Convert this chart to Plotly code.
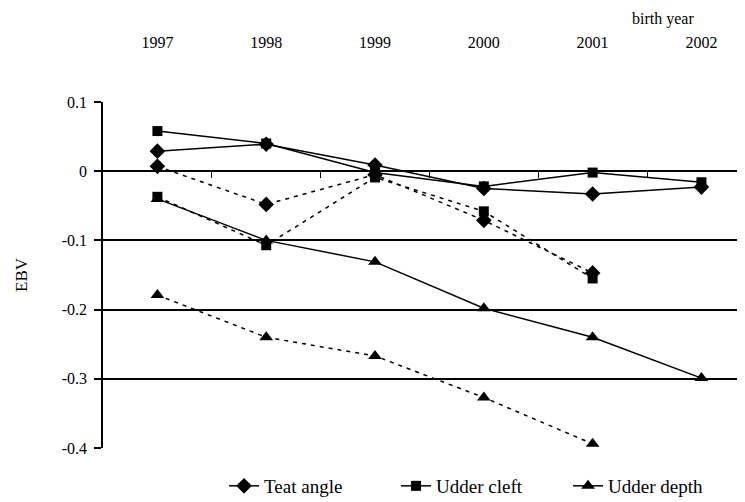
import plotly.graph_objects as go

years = ["1997", "1998", "1999", "2000", "2001", "2002"]
y_ticks = [0.1, 0, -0.1, -0.2, -0.3, -0.4]
y_tick_text = ["0.1", "0", "-0.1", "-0.2", "-0.3", "-0.4"]

teat_solid = [0.029, 0.039, 0.009, -0.025, -0.033, -0.023]
cleft_solid = [0.058, 0.040, -0.002, -0.022, -0.002, -0.016]
depth_solid = [-0.040, -0.100, -0.131, -0.198, -0.240, -0.299]

teat_dash = [0.007, -0.048, -0.005, -0.071, -0.147, None]
cleft_dash = [-0.037, -0.107, -0.009, -0.058, -0.155, None]
depth_dash = [-0.179, -0.240, -0.267, -0.327, -0.394, None]

FONT = "Liberation Serif"
xi = list(range(len(years)))
XR = [-0.5, 5.474]

fig = go.Figure()

def add(vals, name, symbol, size, dash, show):
    fig.add_trace(go.Scatter(
        x=xi, y=vals, name=name, mode="lines+markers",
        line=dict(color="black", width=1.5, dash=dash),
        marker=dict(symbol=symbol, size=size, color="black"),
        showlegend=show, connectgaps=False,
    ))

add(depth_dash, "Udder depth", "triangle-up", 12, "4px,5px", False)
add(teat_dash, "Teat angle", "diamond", 12, "4px,5px", False)
add(cleft_dash, "Udder cleft", "square", 10, "4px,5px", False)
add(depth_solid, "Udder depth", "triangle-up", 12, "solid", False)
add(teat_solid, "Teat angle", "diamond", 12, "solid", True)
add(cleft_solid, "Udder cleft", "square", 10, "solid", True)
fig.add_trace(go.Scatter(
    x=[None], y=[None], name="Udder depth", mode="lines+markers",
    line=dict(color="black", width=1.5),
    marker=dict(symbol="triangle-up", size=12, color="black"), showlegend=True))

# invisible trace for the category-boundary ticks on the zero line
fig.add_trace(go.Scatter(x=[None], y=[None], xaxis="x2", showlegend=False, hoverinfo="skip"))

fig.update_layout(
    width=745, height=502,
    margin=dict(l=95, r=0, t=94, b=62, autoexpand=False),
    paper_bgcolor="white", plot_bgcolor="white",
    font=dict(family=FONT, size=15, color="black"),
    xaxis=dict(
        range=XR, side="top", tickmode="array", tickvals=xi, ticktext=years,
        ticks="", showgrid=False, zeroline=False, showline=False, automargin=False,
        ticklabelstandoff=50, tickfont=dict(family=FONT, size=16),
    ),
    xaxis2=dict(
        range=XR, overlaying="x", anchor="free", position=0.8, side="bottom",
        tickmode="array", tickvals=[0.5, 1.5, 2.5, 3.5, 4.5], ticks="outside",
        ticklen=6, tickwidth=1, tickcolor="black", showticklabels=False,
        showgrid=False, zeroline=False, showline=False, automargin=False,
    ),
    yaxis=dict(
        range=[-0.4, 0.1], tickmode="array", tickvals=y_ticks, ticktext=y_tick_text,
        showgrid=True, gridcolor="black", gridwidth=1.5, zeroline=False,
        showline=True, linecolor="black", linewidth=1.5, automargin=False,
        ticks="outside", ticklen=7, tickcolor="black", tickwidth=1.5,
        ticklabelstandoff=4, tickfont=dict(family=FONT, size=16),
        title=dict(text="EBV", font=dict(family=FONT, size=17), standoff=30),
    ),
    legend=dict(orientation="h", x=0.29, xanchor="left", xref="container",
                y=0.01, yanchor="bottom", yref="container",
                entrywidth=127, entrywidthmode="pixels",
                font=dict(family=FONT, size=19), traceorder="normal"),
    annotations=[dict(text="birth year", xref="paper", yref="paper", x=0.8615, y=1.2717,
                      showarrow=False, font=dict(family=FONT, size=16),
                      xanchor="center", yanchor="top")],
)

fig.write_html("out.html")
